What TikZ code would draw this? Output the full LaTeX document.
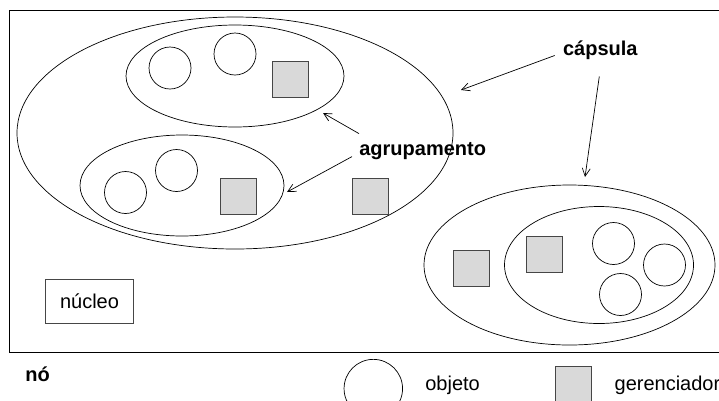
\documentclass[tikz,border=0pt]{standalone}
\usepackage{fontspec}
\setmainfont{Liberation Sans}
\usetikzlibrary{shapes.geometric,arrows.meta}
\definecolor{gerfill}{RGB}{217,217,217}
\definecolor{gerline}{RGB}{70,70,70}
\tikzset{
	obj/.style={circle, draw, minimum size=42pt, inner sep=0pt},
	ger/.style={rectangle, draw=gerline, fill=gerfill, minimum size=36pt, inner sep=0pt},
	grp/.style={ellipse, draw, inner sep=0pt},
	lbl/.style={font=\fontsize{20}{24}\selectfont\bfseries, inner sep=0pt},
	txt/.style={font=\fontsize{20}{24}\selectfont, inner sep=0pt},
	conn/.style={-{Straight Barb[length=8pt,width=8pt]}}
}
\begin{document}
\begin{tikzpicture}[x=1pt, y=-1pt, line width=0.7pt]
		\path[use as bounding box] (0,0) rectangle (719,400);
		\clip (0,0) rectangle (719,400);
		%node frame
		\draw (9,10) rectangle (740,352);
		
		%left capsule
		\node (capA) at (235,133) [grp, minimum width=436pt, minimum height=232pt]{};
		\node (grpA) at (235,76) [grp, minimum width=218pt, minimum height=102pt]{};
		\node (grpB) at (182,185.5) [grp, minimum width=204pt, minimum height=101pt]{};
		\node (objA1) at (170,68) [obj]{};
		\node (objA2) at (235,54) [obj]{};
		\node (gerA) at (290,79.5) [ger]{};
		\node (objB1) at (125.5,192.5) [obj]{};
		\node (objB2) at (176.5,170.5) [obj]{};
		\node (gerB) at (238.5,196) [ger]{};
		\node (gerC) at (370,196) [ger]{};
		
		%right capsule
		\node (capB) at (569.5,265) [grp, minimum width=291pt, minimum height=160pt]{};
		\node (grpC) at (599,265) [grp, minimum width=189pt, minimum height=117pt]{};
		\node (gerD) at (471.5,268.5) [ger]{};
		\node (gerE) at (544.5,254) [ger]{};
		\node (objC1) at (613.5,243.5) [obj]{};
		\node (objC2) at (664.5,265) [obj]{};
		\node (objC3) at (620.5,294.5) [obj]{};
		
		\node (nucleo) at (89.5,301.5) [draw=gerline, minimum width=87.5pt, minimum height=43.5pt, txt]{núcleo};
		
		%labels and arrows
		\coordinate (grpAin) at (323,113);
		\coordinate (grpBin) at (287,192);
		\coordinate (capAin) at (461,90);
		\coordinate (capBin) at (585,177);
		\node (agr) at (359,155) [lbl, anchor=base west]{agrupamento};
		\node (cap) at (562.7,55) [lbl, anchor=base west]{cápsula};
		\draw[conn] (agr.north west) ++(0,-8) -- (grpAin);
		\draw[conn] (agr.south west) ++(-7,-3) -- (grpBin);
		\draw[conn] (cap.south west) ++(-8,-4) -- (capAin);
		\draw[conn] (cap.south) ++(-1,17) -- (capBin);
		
		%legend
		\node (no) at (25,381.5) [lbl, anchor=base west]{nó};
		\node (legobj) at (373.3,388.6) [obj, minimum size=58.5pt]{};
		\node (legobjtxt) at (425,390) [txt, anchor=base west]{objeto};
		\node (legger) at (573.7,384.7) [ger]{};
		\node (leggertxt) at (614.3,390) [txt, anchor=base west]{gerenciador};
\end{tikzpicture}
\end{document}
